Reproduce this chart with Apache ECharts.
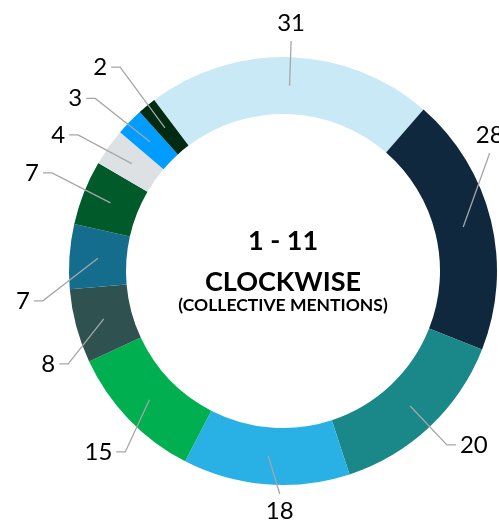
<!DOCTYPE html>
<html>
<head>
<meta charset="utf-8">
<script src="https://cdn.jsdelivr.net/npm/echarts@6/dist/echarts.min.js"></script>
<style>
html,body{margin:0;padding:0;background:#fff;}
#c{width:499px;height:522px;}
</style>
</head>
<body>
<div id="c"></div>
<script>
const categories = ['1','2','3','4','5','6','7','8','9','10','11'];
const values = [31, 28, 20, 18, 15, 8, 7, 7, 4, 3, 2];
const colors = ['#C8E9F5','#0F283D','#1A8789','#29B0E4','#00AF4F','#2F5150','#156D8E','#005A2A','#DEE1E4','#009CFF','#002A12'];
const centerTitle1 = '1 - 11';
const centerTitle2 = 'CLOCKWISE';
const centerSub = '(COLLECTIVE MENTIONS)';

// label-line styling hints (angle tweak in degrees, end radius, label side)
const labelTweak = [
  {shift:0,    r:230, side:'top'},
  {shift:-16,  r:238, side:'top'},
  {shift:0,    r:239, side:'right'},
  {shift:-3.7, r:223, side:'bottom'},
  {shift:-5,   r:240, side:'left'},
  {shift:-8.4, r:234, side:'left'},
  {shift:-11,  r:242, side:'left'},
  {shift:1.5,  r:251, side:'left'},
  {shift:-1.8, r:246, side:'left'},
  {shift:-1.6, r:255, side:'left'},
  {shift:0.9,  r:261, side:'left'}
];

const FONT = 'Lato, "Liberation Sans", sans-serif';
const CX = 283, CY = 271, R0 = 157, R1 = 214, START = 127;
const RMID = (R0 + R1) / 2;
const total = values.reduce((a,b)=>a+b,0);
// mid angles, clockwise from 12 o'clock
const midAngles = [];
{ let acc = 90 - START; values.forEach(v=>{ const span = v/total*360; midAngles.push(acc + span/2); acc += span; }); }
function polar(angDeg, r){ const a = angDeg*Math.PI/180; return [CX + Math.sin(a)*r, CY - Math.cos(a)*r]; }

const chart = echarts.init(document.getElementById('c'), null, {renderer:'canvas'});
const data = values.map((v,i)=>({name:categories[i], value:v, itemStyle:{color:colors[i]}}));
chart.setOption({
  animation:false,
  graphic:[
    {type:'text', x:CX, y:241, z:10, style:{text:centerTitle1, font:'bold 27px '+FONT, fill:'#000', align:'center', verticalAlign:'middle'}},
    {type:'text', x:CX, y:282, z:10, style:{text:centerTitle2, font:'bold 27px '+FONT, fill:'#000', align:'center', verticalAlign:'middle'}},
    {type:'text', x:CX, y:305, z:10, style:{text:centerSub, font:'bold 17.5px '+FONT, fill:'#000', align:'center', verticalAlign:'middle'}}
  ],
  series:[
    {
      type:'pie', z:1, center:[CX,CY], radius:[R0,R1], startAngle:START, clockwise:true,
      label:{show:false}, labelLine:{show:false}, silent:true,
      data:data
    },
    {
      type:'pie', z:5, center:[CX,CY], radius:[0,RMID], startAngle:START, clockwise:true, silent:true,
      itemStyle:{color:'rgba(0,0,0,0)'},
      avoidLabelOverlap:false,
      label:{show:true, position:'outside', formatter:'{c}', color:'#000', fontSize:24, fontFamily:FONT},
      labelLine:{show:true, length:50, length2:10, lineStyle:{color:'#A6A6A6', width:1.3}},
      labelLayout:function(p){
        const i = p.dataIndex, t = labelTweak[i];
        const p0 = polar(midAngles[i], RMID);
        const p1 = polar(midAngles[i] + t.shift, t.r);
        if (t.side === 'top') return {x:p1[0], y:p1[1]-6, align:'center', verticalAlign:'bottom', labelLinePoints:[p0,p1,p1]};
        if (t.side === 'bottom') return {x:p1[0], y:p1[1]+5, align:'center', verticalAlign:'top', labelLinePoints:[p0,p1,p1]};
        const dir = t.side === 'left' ? -1 : 1;
        const p2 = [p1[0] + dir*9, p1[1]];
        return {x:p2[0] + dir*4, y:p2[1], align: dir<0?'right':'left', verticalAlign:'middle', labelLinePoints:[p0,p1,p2]};
      },
      data:values.map((v,i)=>({name:categories[i], value:v}))
    }
  ]
});
</script>
</body>
</html>
